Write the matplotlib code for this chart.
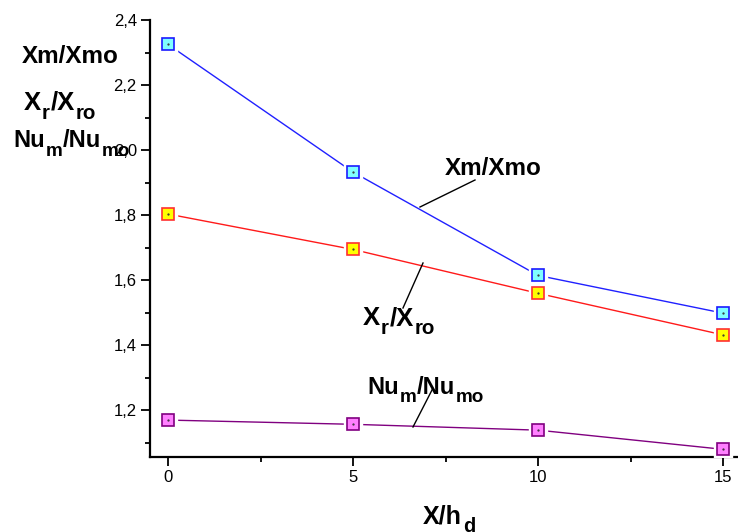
import matplotlib
matplotlib.use("Agg")
import matplotlib.pyplot as plt
from matplotlib.ticker import MultipleLocator, FuncFormatter
from matplotlib.transforms import IdentityTransform
from matplotlib.lines import Line2D

plt.rcParams['font.family'] = ['Liberation Sans', 'DejaVu Sans']

# Data
x_hd = [0, 5, 10, 15]
xm_xmo = [2.325, 1.932, 1.614, 1.498]
xr_xro = [1.803, 1.694, 1.559, 1.431]
num_numo = [1.169, 1.156, 1.138, 1.079]

series = [
    (xm_xmo, '#2020ff', '#80ffff', '#1a1aff'),
    (xr_xro, '#ff1a1a', '#ffff00', '#ff3030'),
    (num_numo, '#800080', '#ff80ff', '#800080'),
]

W, H = 738, 532
fig = plt.figure(figsize=(W / 100, H / 100), dpi=100)
ax = fig.add_axes([150 / W, 75 / H, 588 / W, 437 / H])

for y, lc, fc, ec in series:
    ax.plot(x_hd, y, color=lc, lw=1.0, zorder=2)
    # white halo so the line stops just short of each marker
    ax.plot(x_hd, y, ls='none', marker='s', ms=12.5, mfc='white', mec='white', zorder=3)
    ax.plot(x_hd, y, ls='none', marker='s', ms=9, mfc=fc, mec=ec, mew=1.2, zorder=4)
    ax.plot(x_hd, y, ls='none', marker='.', ms=1.2, color='#333333', zorder=5)

ax.set_xlim(-0.486, 15.4)
ax.set_ylim(1.0554, 2.4)

ax.xaxis.set_major_locator(MultipleLocator(5))
ax.xaxis.set_minor_locator(MultipleLocator(2.5))
ax.yaxis.set_major_locator(MultipleLocator(0.2))
ax.yaxis.set_minor_locator(MultipleLocator(0.1))
ax.yaxis.set_major_formatter(FuncFormatter(lambda v, p: f"{v:.1f}".replace('.', ',')))
ax.tick_params(which='major', direction='out', length=6.5, width=1.3, labelsize=12, pad=3)
ax.tick_params(which='minor', direction='out', length=3.6, width=1.3)

for s in ('top', 'right'):
    ax.spines[s].set_visible(False)
for s in ('left', 'bottom'):
    ax.spines[s].set_linewidth(1.6)

fig.canvas.draw()
renderer = fig.canvas.get_renderer()


def rich(left, base, parts, fs, sub_scale=0.8, drop=0.36):
    """Bold text with subscripts; left/base in pixels from the top-left corner."""
    fpx = fs * fig.dpi / 72
    x = left
    for s, sub in parts:
        size = fs * sub_scale if sub else fs
        y = (H - base) - (drop * fpx if sub else 0)
        t = fig.text(x, y, s, fontsize=size, fontweight='bold', ha='left',
                     va='baseline', transform=IdentityTransform(), zorder=6)
        x += t.get_window_extent(renderer).width + 0.8


def leader(x0, y0, x1, y1):
    fig.add_artist(Line2D([x0, x1], [H - y0, H - y1], color='black', lw=1.0,
                          transform=IdentityTransform(), zorder=6))


XM = [('Xm/Xmo', False)]
XR = [('X', False), ('r', True), ('/X', False), ('ro', True)]
NU = [('Nu', False), ('m', True), ('/Nu', False), ('mo', True)]

# Left-side labels
rich(22, 63, XM, 17.5)
rich(24, 110, XR, 18.5)
rich(13, 147, NU, 17)

# Curve labels with leader lines
rich(445, 175, XM, 17.5)
leader(475, 180, 420, 207)
rich(363, 325, XR, 18.5)
leader(423, 263, 403, 308)
rich(367, 394, NU, 17)
leader(432, 390, 413, 427)

# X axis title
rich(423, 523, [('X/h', False), ('d', True)], 18)

fig.savefig('out.png', dpi=100)
